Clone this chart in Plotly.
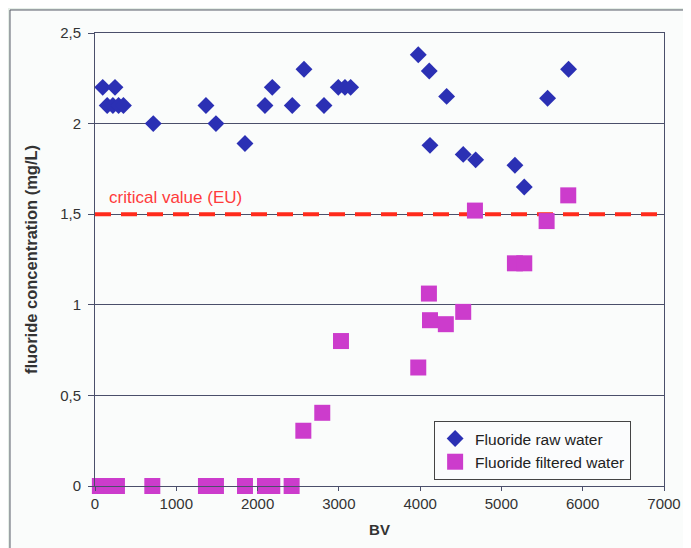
import plotly.graph_objects as go

# Raw water fluoride (blue diamonds)
raw_bv = [95, 246, 150, 220, 290, 350, 717, 1365, 1488, 1845, 2091, 2181, 2427,
          2571, 2817, 2993, 3075, 3145, 3977, 4112, 4326, 4121, 4530, 4683,
          5166, 5281, 5568, 5826]
raw_val = [2.2, 2.2, 2.1, 2.1, 2.1, 2.1, 2.0, 2.1, 2.0, 1.89, 2.1, 2.2, 2.1,
           2.3, 2.1, 2.2, 2.2, 2.2, 2.38, 2.29, 2.15, 1.88, 1.83, 1.8,
           1.77, 1.65, 2.14, 2.3]

# Filtered water fluoride (magenta squares)
filt_bv = [60, 130, 200, 270, 705, 1365, 1488, 1845, 2091, 2181, 2419,
           2563, 2796, 3026, 3977, 4108, 4121, 4316, 4530, 4674,
           5166, 5281, 5556, 5822]
filt_val = [0, 0, 0, 0, 0, 0, 0, 0, 0, 0, 0,
            0.305, 0.404, 0.80, 0.654, 1.062, 0.915, 0.893, 0.961, 1.52,
            1.229, 1.229, 1.462, 1.604]

critical_value = 1.5
y_ticks = [0, 0.5, 1, 1.5, 2, 2.5]
y_tick_text = ["0", "0,5", "1", "1,5", "2", "2,5"]
x_ticks = [0, 1000, 2000, 3000, 4000, 5000, 6000, 7000]

fig = go.Figure()

fig.add_trace(go.Scatter(
    x=[0, 7000], y=[critical_value, critical_value], mode="lines",
    line=dict(color="#ff2b1c", width=4, dash="16px,10px"),
    showlegend=False, hoverinfo="skip"))

fig.add_trace(go.Scatter(
    x=raw_bv, y=raw_val, mode="markers", name="Fluoride raw water",
    marker=dict(symbol="diamond", size=13, color="#2b30b4"), cliponaxis=False))

fig.add_trace(go.Scatter(
    x=filt_bv, y=filt_val, mode="markers", name="Fluoride filtered water",
    marker=dict(symbol="square", size=16, color="#cc3ccc"), cliponaxis=False))

fig.add_annotation(x=0.021, y=1.59, xref="paper", yref="y", xanchor="left",
                   yanchor="middle", text="critical value (EU)", showarrow=False,
                   font=dict(family="Liberation Sans, Arial", size=17, color="#ff3b3b"))

fig.update_layout(
    width=691, height=548,
    margin=dict(l=87, r=35, t=25, b=70),
    paper_bgcolor="#e6eee8",
    plot_bgcolor="#fbfcfd",
    font=dict(family="Liberation Sans, Arial", size=15, color="#333333"),
    shapes=[dict(type="rect", xref="paper", yref="paper",
                 x0=-0.1494, x1=1.2, y0=-0.2, y1=1.0508,
                 line=dict(color="#555a66", width=1), fillcolor="#fafcfb",
                 layer="below")],
    legend=dict(x=0.596, y=0.1435, xanchor="left", yanchor="top",
                bgcolor="#fbfcfd", bordercolor="#444444", borderwidth=1,
                font=dict(size=15.5, color="#222222"), tracegroupgap=0,
                itemwidth=30),
    xaxis=dict(range=[0, 7000], tickvals=x_ticks, showgrid=False,
               showline=True, linecolor="#4a4f6a", linewidth=1, mirror=True,
               ticks="outside", ticklen=4, tickcolor="#4a4f6a",
               zeroline=False,
               title=dict(text="<b>BV</b>", font=dict(size=15, color="#333333"),
                          standoff=13)),
    yaxis=dict(range=[0, 2.5], tickvals=y_ticks, ticktext=y_tick_text,
               showgrid=True, gridcolor="#4a4f6a", gridwidth=1,
               showline=True, linecolor="#4a4f6a", linewidth=1, mirror=True,
               ticks="outside", ticklen=6, tickcolor="#4a4f6a",
               ticklabelstandoff=4,
               zeroline=False,
               title=dict(text="<b>fluoride concentration (mg/L)</b>",
                          font=dict(size=16.5, color="#333333"), standoff=18)),
)

fig.write_html("out.html")
